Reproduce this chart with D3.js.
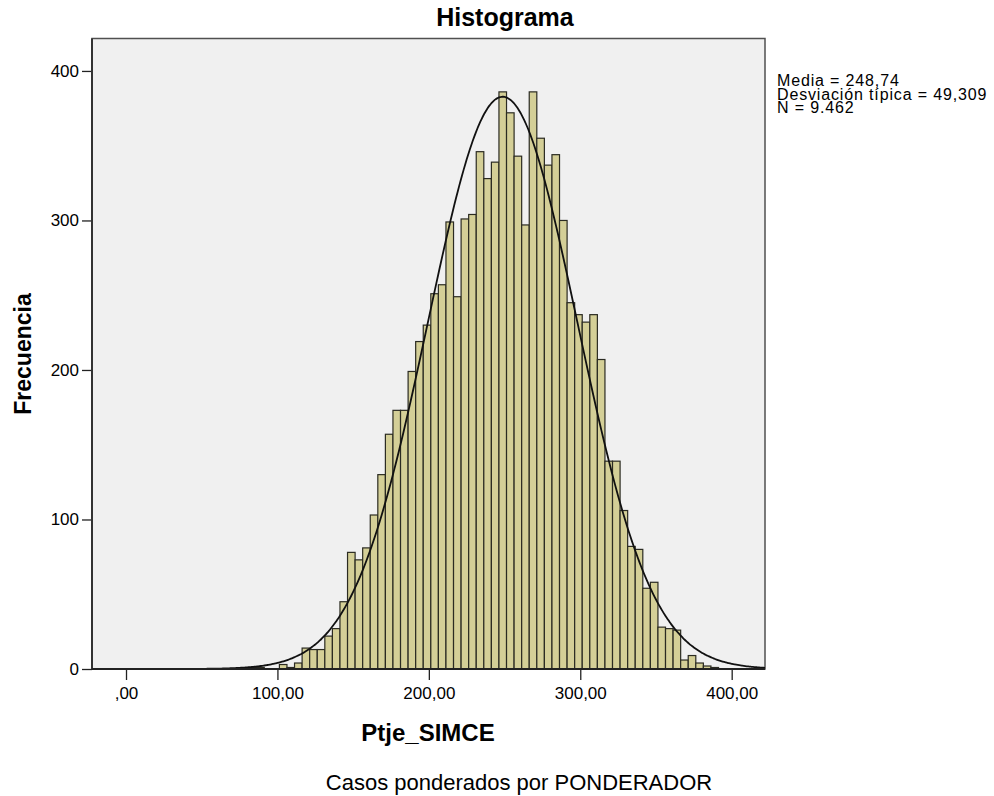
<!DOCTYPE html>
<html>
<head>
<meta charset="utf-8">
<script src="https://cdn.jsdelivr.net/npm/d3@7"></script>
<style>
  body { margin: 0; background: #ffffff; }
  text { font-family: "Liberation Sans", Arial, sans-serif; fill: #000; }
</style>
</head>
<body>
<svg id="chart" width="994" height="796"></svg>
<script>
// histogram bins (width 5), first bin starts at 81.3
var binStart = 81.3;
var binWidth = 5;
var counts = [1, 1, 0, 0, 3, 1, 4, 14, 13, 13, 22, 27, 45, 78, 73, 81, 103, 130, 157, 173,
              173, 199, 219, 230, 251, 257, 299, 249, 301, 304, 346, 328, 339, 386, 372, 343,
              297, 386, 355, 337, 344, 300, 245, 237, 232, 237, 207, 139, 139, 106, 82, 80,
              54, 58, 28, 27, 26, 6, 9, 4, 2, 1];

var xTicks = [0, 100, 200, 300, 400];
var yTicks = [0, 100, 200, 300, 400];

var media = 248.74;
var desv = 49.309;
var nCasos = 9462;

var statLines = ["Media = 248,74", "Desviación típica = 49,309", "N = 9.462"];

var bins = counts.map(function (c, i) {
    return { x0: binStart + i * binWidth, x1: binStart + (i + 1) * binWidth, n: c };
});

// plot frame (window.top is reserved, hence the names)
var plotLeft = 92, plotRight = 765, plotTop = 38.5, plotBottom = 669;

var svg = d3.select("#chart");

var x = d3.scaleLinear().domain([-22.46, 422.0]).range([plotLeft, plotRight]);
var y = d3.scaleLinear().domain([0, 421.7]).range([plotBottom, plotTop]);

// plot background
svg.append("rect")
    .attr("x", plotLeft)
    .attr("y", plotTop)
    .attr("width", plotRight - plotLeft)
    .attr("height", plotBottom - plotTop)
    .style("fill", "#f0f0f0")
    .style("stroke", "#505050")
    .style("stroke-width", 1.5);

// bars
svg.append("g")
    .selectAll("rect")
    .data(bins.filter(function (d) { return d.n > 0; }))
    .enter()
    .append("rect")
    .attr("x", function (d) { return x(d.x0); })
    .attr("y", function (d) { return y(d.n); })
    .attr("width", function (d) { return x(d.x1) - x(d.x0); })
    .attr("height", function (d) { return plotBottom - y(d.n); })
    .style("fill", "#d4cf97")
    .style("stroke", "#2b2b22")
    .style("stroke-width", 1.2);

// normal curve
var curvePts = [];
for (var v = -22; v <= 422; v += 1) {
    var z = (v - media) / desv;
    curvePts.push([v, nCasos * binWidth / (desv * Math.sqrt(2 * Math.PI)) * Math.exp(-0.5 * z * z)]);
}
svg.append("path")
    .datum(curvePts)
    .attr("d", d3.line().x(function (d) { return x(d[0]); }).y(function (d) { return y(d[1]); }).curve(d3.curveBasis))
    .style("fill", "none")
    .style("stroke", "#111")
    .style("stroke-width", 1.8);

// axes
var yAxis = svg.append("g")
    .attr("transform", "translate(" + plotLeft + ",0)")
    .call(d3.axisLeft(y).tickValues(yTicks).tickSize(10).tickPadding(3).tickFormat(d3.format("d")));
yAxis.select(".domain").remove();
yAxis.selectAll("line").style("stroke", "#222").style("stroke-width", 1.3);
yAxis.selectAll("text").style("font-size", "17px");

var xAxis = svg.append("g")
    .attr("transform", "translate(0," + plotBottom + ")")
    .call(d3.axisBottom(x).tickValues(xTicks).tickSize(11).tickPadding(7)
        .tickFormat(function (d) { return d === 0 ? ",00" : d + ",00"; }));
xAxis.select(".domain").remove();
xAxis.selectAll("line").style("stroke", "#222").style("stroke-width", 1.3);
xAxis.selectAll("text").style("font-size", "17px");

// axis lines over the frame
svg.append("line")
    .attr("x1", plotLeft).attr("x2", plotLeft).attr("y1", plotTop).attr("y2", plotBottom)
    .style("stroke", "#333").style("stroke-width", 2);
svg.append("line")
    .attr("x1", plotLeft).attr("x2", plotRight).attr("y1", plotBottom).attr("y2", plotBottom)
    .style("stroke", "#222").style("stroke-width", 1.8);

// titles
svg.append("text")
    .attr("x", 505)
    .attr("y", 26)
    .attr("text-anchor", "middle")
    .style("font-size", "25px")
    .style("font-weight", "bold")
    .text("Histograma");

svg.append("text")
    .attr("transform", "translate(31,354) rotate(-90)")
    .attr("text-anchor", "middle")
    .style("font-size", "23px")
    .style("font-weight", "bold")
    .text("Frecuencia");

svg.append("text")
    .attr("x", 428)
    .attr("y", 741)
    .attr("text-anchor", "middle")
    .style("font-size", "24px")
    .style("font-weight", "bold")
    .text("Ptje_SIMCE");

svg.append("text")
    .attr("x", 519)
    .attr("y", 790)
    .attr("text-anchor", "middle")
    .style("font-size", "22px")
    .text("Casos ponderados por PONDERADOR");

// statistics box
svg.append("g")
    .selectAll("text")
    .data(statLines)
    .enter()
    .append("text")
    .attr("x", 777)
    .attr("y", function (d, i) { return 86 + i * 13.5; })
    .style("font-size", "16px")
    .style("letter-spacing", "0.85px")
    .text(function (d) { return d; });
</script>
</body>
</html>
